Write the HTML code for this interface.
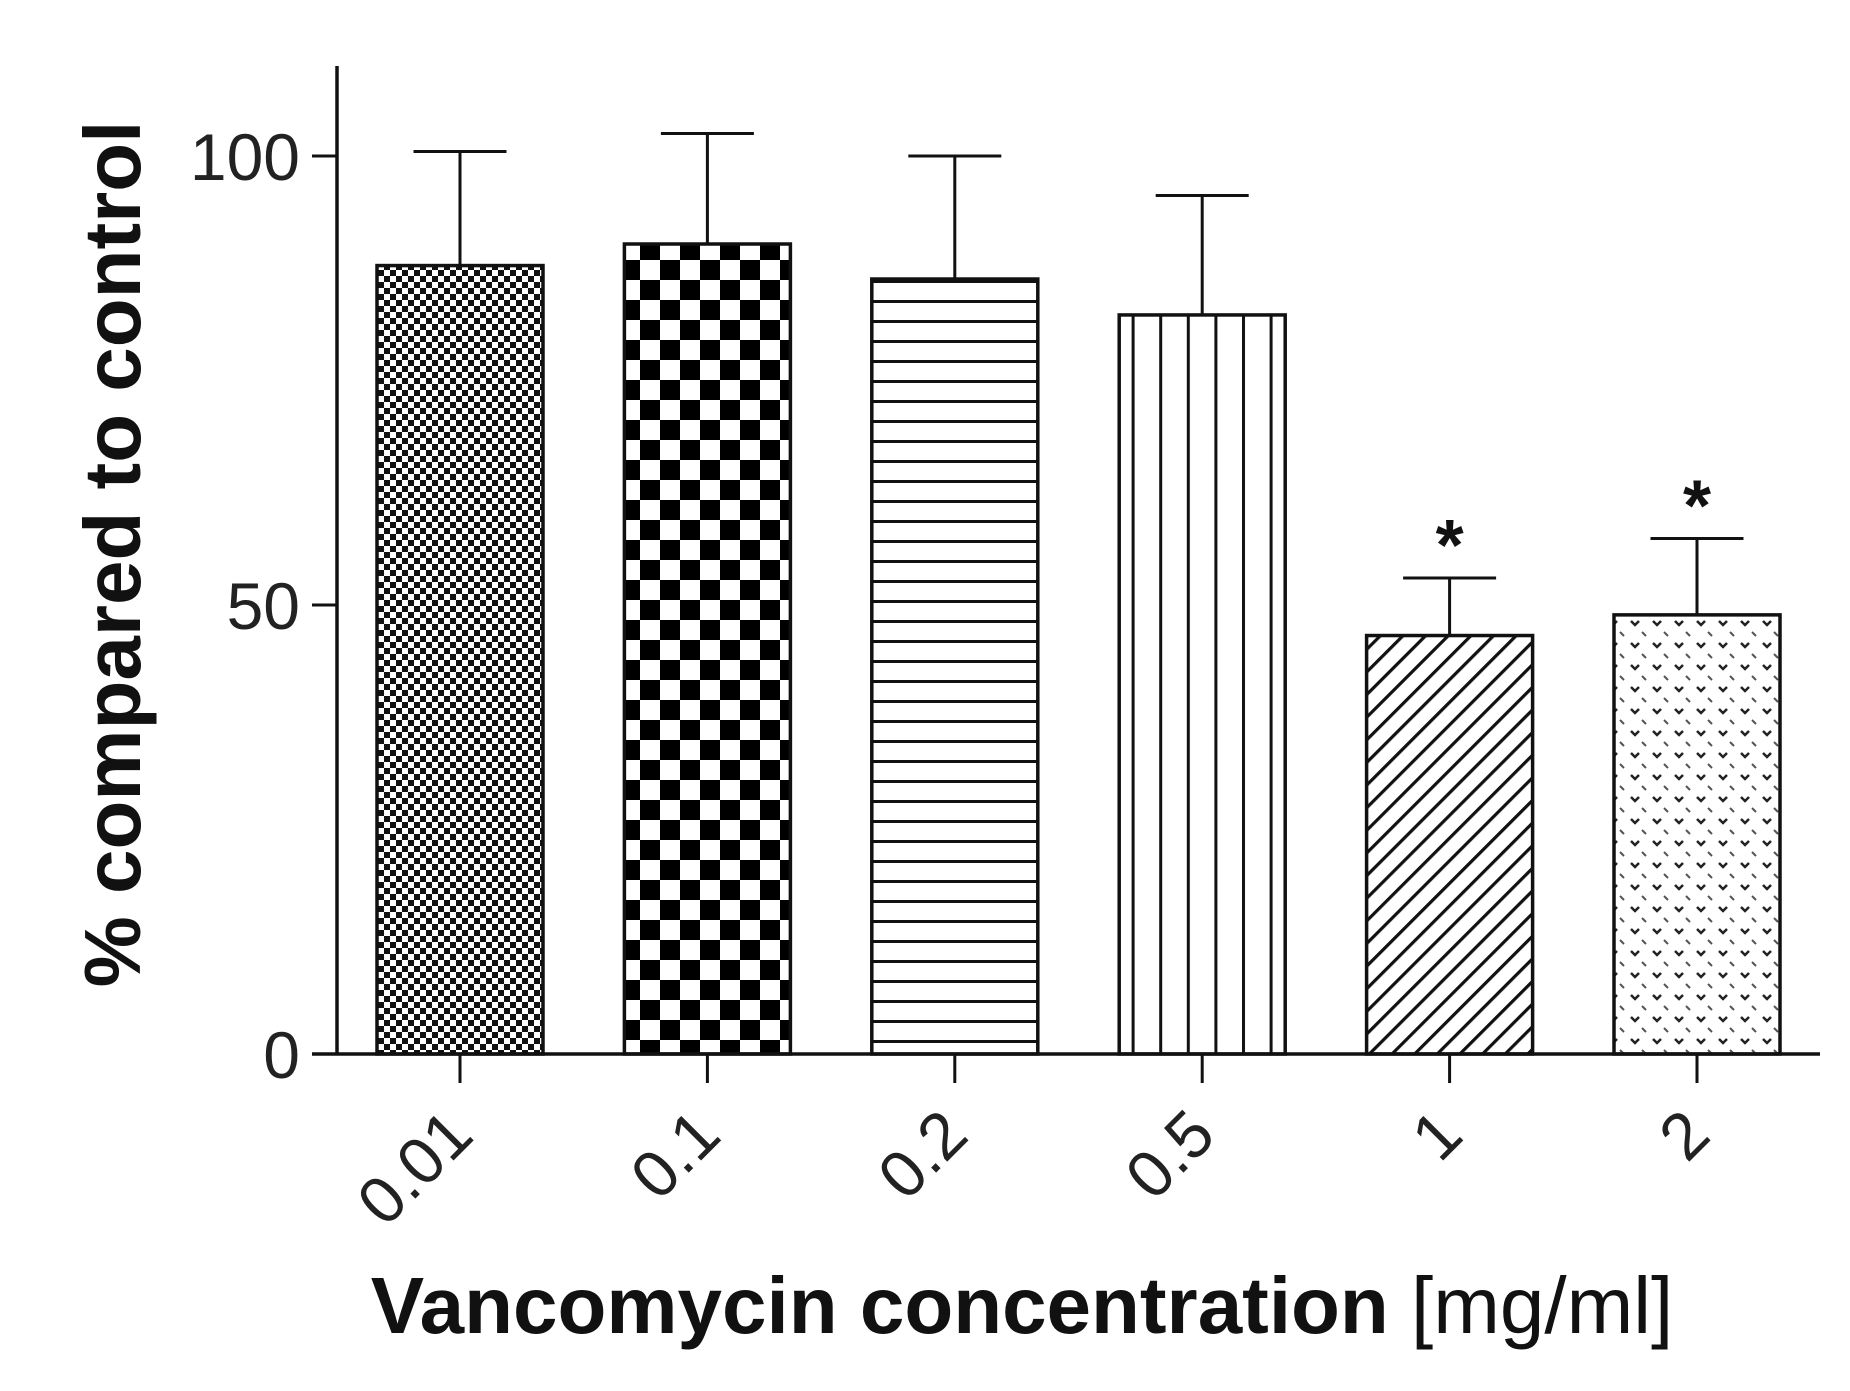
<!DOCTYPE html>
<html><head><meta charset="utf-8"><style>html,body{margin:0;padding:0;background:#fff;}svg{display:block;}</style></head>
<body>
<svg id="chart" width="1850" height="1391" viewBox="0 0 1850 1391" xmlns="http://www.w3.org/2000/svg" font-family="Liberation Sans, Arial, sans-serif">
<defs>
<pattern id="p0" patternUnits="userSpaceOnUse" width="12" height="12"><rect width="12" height="12" fill="#fff"/><rect width="6" height="6" fill="#111"/><rect x="6" y="6" width="6" height="6" fill="#111"/></pattern>
<pattern id="p1" patternUnits="userSpaceOnUse" width="40" height="40"><rect width="40" height="40" fill="#fff"/><rect width="20" height="20" fill="#000"/><rect x="20" y="20" width="20" height="20" fill="#000"/></pattern>
<pattern id="p2" patternUnits="userSpaceOnUse" width="20" height="20"><rect width="20" height="20" fill="#fff"/><rect y="0" width="20" height="3" fill="#111"/></pattern>
<pattern id="p3" patternUnits="userSpaceOnUse" width="27.6" height="20"><rect width="27.6" height="20" fill="#fff"/><rect x="0" width="3" height="20" fill="#111"/></pattern>
<pattern id="p4" patternUnits="userSpaceOnUse" width="16" height="16" patternTransform="rotate(-45)"><rect width="16" height="16" fill="#fff"/><rect width="16" height="3.2" fill="#111"/></pattern>
<pattern id="p5" patternUnits="userSpaceOnUse" width="22" height="22"><rect width="22" height="22" fill="#fff"/><path d="M3 5 L7 9 L11 5" stroke="#222" stroke-width="2.5" fill="none"/><path d="M14 16 L18 20" stroke="#555" stroke-width="2" fill="none"/></pattern>
</defs>
<g id="marks"></g>
</svg>
<script>
const categories = ["0.01","0.1","0.2","0.5","1","2"];
const means = [87.8, 90.2, 86.3, 82.3, 46.6, 48.9];
const errors = [12.7, 12.3, 13.7, 13.3, 6.4, 8.5];
const significant = [false,false,false,false,true,true];
const yTicks = [0, 50, 100];

const NS = "http://www.w3.org/2000/svg";
const g = document.getElementById('marks');
const x0 = 460, step = 247.4, barW = 166, capW = 93;
const yScale = v => 1054 - v * 8.98;
const xScale = i => x0 + i * step;
function mk(tag, attrs, text){const e=document.createElementNS(NS,tag);for(const k in attrs)e.setAttribute(k,attrs[k]);if(text!==undefined)e.textContent=text;g.appendChild(e);return e;}

categories.forEach((c,i)=>{
  const cx = xScale(i), top = yScale(means[i]), et = yScale(means[i]+errors[i]);
  const eb = mk('line',{x1:cx,x2:cx,y1:top,y2:et,stroke:'#111','stroke-width':3});
  
  
  const cap = mk('line',{x1:cx-capW/2,x2:cx+capW/2,y1:et,y2:et,stroke:'#111','stroke-width':3});
  
  
  const r = mk('rect',{x:cx-barW/2,y:top,width:barW,height:yScale(0)-top,fill:'url(#p'+i+')',stroke:'#111','stroke-width':3.5});
  
  
  const t = mk('line',{x1:cx,x2:cx,y1:1054,y2:1083,stroke:'#111','stroke-width':3});
  
  
  const lbl = mk('text',{x:0,y:0,'font-size':66,'text-anchor':'end',fill:'#222',transform:'translate('+(cx+16)+',1138) rotate(-45)'}, c);
  
  
  if(significant[i]){
    const s = mk('text',{x:cx,y:et-8,'font-size':72,'font-weight':'bold','text-anchor':'middle',fill:'#111'}, '*');
    
    
  }
});
yTicks.forEach(v=>{
  const y=yScale(v);
  const t = mk('line',{x1:312,x2:337,y1:y,y2:y,stroke:'#111','stroke-width':3});
  
  
  const l = mk('text',{x:300,y:y+24,'font-size':66,'text-anchor':'end',fill:'#222'}, String(v));
  
  
});
const ya = mk('line',{x1:337,x2:337,y1:66,y2:1055,stroke:'#111','stroke-width':3.5});


const xa = mk('line',{x1:312,x2:1820,y1:1054,y2:1054,stroke:'#111','stroke-width':3.5});


const yt = mk('text',{x:0,y:0,'font-size':80,'font-weight':'bold','text-anchor':'middle',fill:'#111',transform:'translate(140,554) rotate(-90)'}, '% compared to control');


const xt = mk('text',{x:1022,y:1333,'font-size':80,'text-anchor':'middle',fill:'#111'});


const b = document.createElementNS(NS,'tspan'); b.setAttribute('font-weight','bold'); b.textContent='Vancomycin concentration '; xt.appendChild(b);
const n = document.createElementNS(NS,'tspan'); n.textContent='[mg/ml]'; xt.appendChild(n);
</script>
</body></html>
